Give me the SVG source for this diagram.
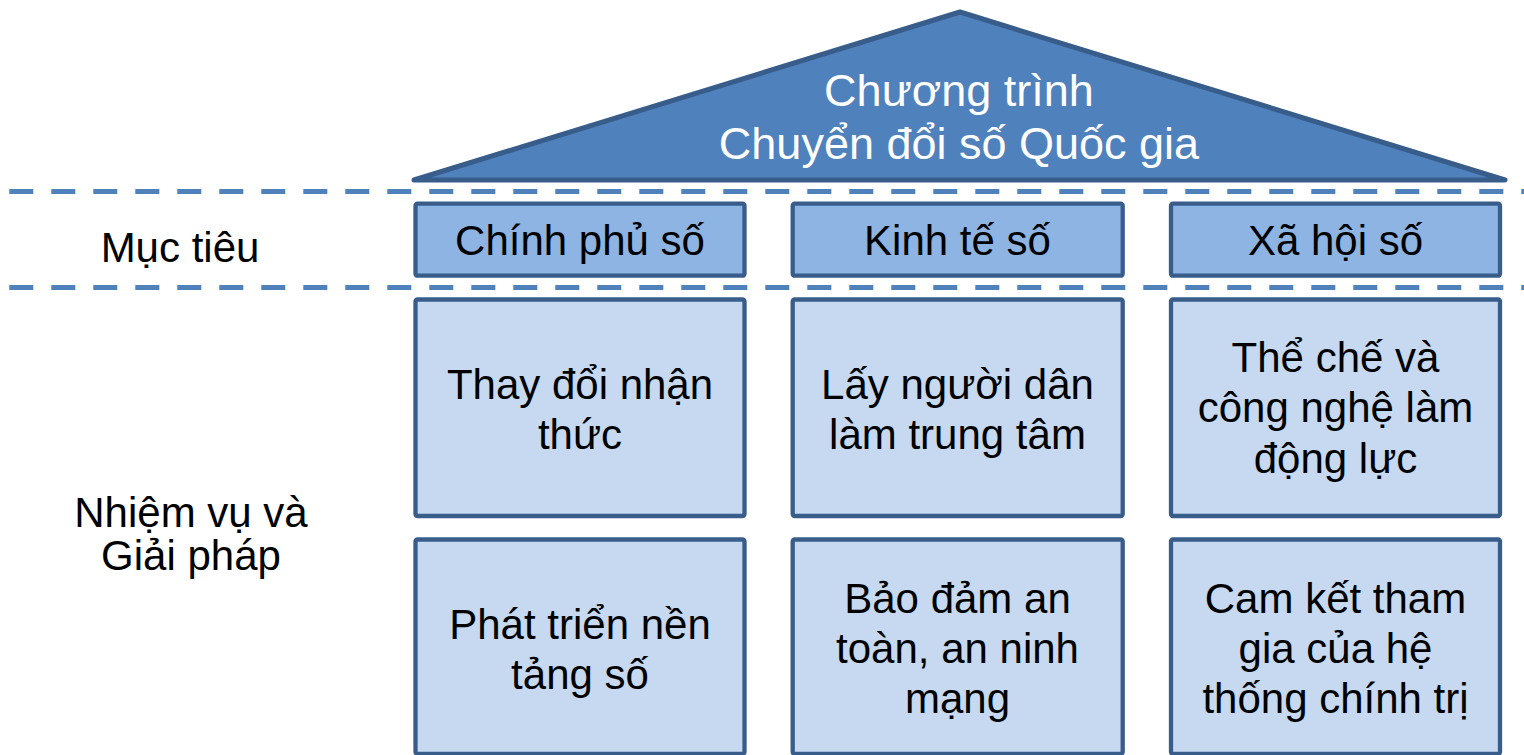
<svg xmlns="http://www.w3.org/2000/svg" width="1524" height="755" viewBox="0 0 1524 755">
<style>
.box{stroke:#385D8A;stroke-width:4.3}
.goal{fill:#8EB4E3}
.task{fill:#C6D9F1}
.t{font-family:"Liberation Sans",Arial,sans-serif;font-size:42px;fill:#000;text-anchor:middle}
.roof-t{font-family:"Liberation Sans",Arial,sans-serif;font-size:45px;fill:#fff;text-anchor:middle}
.dash{stroke:#4F81BD;stroke-width:5;stroke-dasharray:24 18;fill:none}
</style>
<rect width="1524" height="755" fill="#fff"/>
<g id="roof">
<polygon points="414,180 960,12 1505,180" fill="#4F81BD" stroke="#385D8A" stroke-width="5" stroke-linejoin="round"/>
<text class="roof-t" x="959" y="106">Chương trình</text>
<text class="roof-t" x="959" y="159">Chuyển đổi số Quốc gia</text>
</g>
<g id="connectors">
<line class="dash" x1="9.3" y1="191.5" x2="1524" y2="191.5"/>
<line class="dash" x1="9.3" y1="287.5" x2="1524" y2="287.5"/>
</g>
<g id="label-muctieu"><text class="t" x="180" y="262">Mục tiêu</text></g>
<g id="label-nhiemvu"><text class="t" x="191" y="527">Nhiệm vụ và</text><text class="t" x="191" y="570">Giải pháp</text></g>
<g id="goal1"><rect class="box goal" x="415.5" y="203.7" width="329" height="72" rx="2"/><text class="t" x="580" y="255">Chính phủ số</text></g>
<g id="goal2"><rect class="box goal" x="792.7" y="203.7" width="330" height="72" rx="2"/><text class="t" x="957.5" y="255">Kinh tế số</text></g>
<g id="goal3"><rect class="box goal" x="1171" y="203.7" width="329" height="72" rx="2"/><text class="t" x="1335.5" y="255">Xã hội số</text></g>
<g id="task1"><rect class="box task" x="415.5" y="299.5" width="329" height="216.5" rx="2"/><text class="t" x="580" y="399">Thay đổi nhận</text><text class="t" x="580" y="449">thức</text></g>
<g id="task2"><rect class="box task" x="792.7" y="299.5" width="330" height="216.5" rx="2"/><text class="t" x="957.5" y="399">Lấy người dân</text><text class="t" x="957.5" y="449">làm trung tâm</text></g>
<g id="task3"><rect class="box task" x="1171" y="299.5" width="329" height="216.5" rx="2"/><text class="t" x="1335.5" y="372">Thể chế và</text><text class="t" x="1335.5" y="422">công nghệ làm</text><text class="t" x="1335.5" y="473">động lực</text></g>
<g id="task4"><rect class="box task" x="415.5" y="539.5" width="329" height="214.5" rx="2"/><text class="t" x="580" y="639">Phát triển nền</text><text class="t" x="580" y="689">tảng số</text></g>
<g id="task5"><rect class="box task" x="792.7" y="539.5" width="330" height="214.5" rx="2"/><text class="t" x="957.5" y="613">Bảo đảm an</text><text class="t" x="957.5" y="663">toàn, an ninh</text><text class="t" x="957.5" y="713">mạng</text></g>
<g id="task6"><rect class="box task" x="1171" y="539.5" width="329" height="214.5" rx="2"/><text class="t" x="1335.5" y="613">Cam kết tham</text><text class="t" x="1335.5" y="663">gia của hệ</text><text class="t" x="1335.5" y="713">thống chính trị</text></g>
</svg>
